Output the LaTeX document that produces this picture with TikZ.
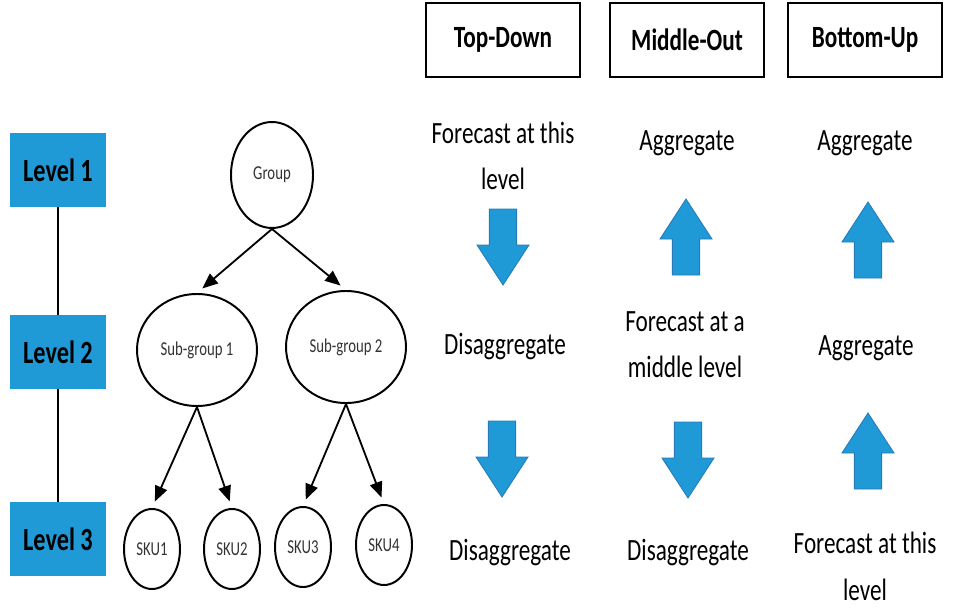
\documentclass[tikz,border=0pt]{standalone}
\usepackage{fontspec}
\setmainfont{Carlito}[FakeStretch=0.75]
\usepackage{xcolor}
\usetikzlibrary{shapes.geometric,arrows.meta}
\definecolor{levelblue}{RGB}{31,154,214}
\definecolor{arrowedge}{RGB}{38,122,184}

\begin{document}
\begin{tikzpicture}[
    levelbox/.style={fill=levelblue, minimum width=2.375cm, minimum height=1.85cm, font=\fontsize{23}{26}\selectfont\bfseries},
    headbox/.style={draw, line width=1.3pt, minimum width=3.85cm, minimum height=1.85cm, font=\fontsize{22}{26}\selectfont\bfseries},
    treenode/.style={draw, ellipse, line width=1.4pt, inner sep=0pt, font=\fontsize{14}{16}\selectfont, text=black!80},
    methodtext/.style={align=center, font=\fontsize{22}{33}\selectfont},
    treearrow/.style={-{Triangle[length=11pt,width=9pt]}, line width=1.3pt, shorten >=5pt},
    bigarrow/.style={fill=levelblue, draw=arrowedge, line width=0.6pt}
]
    \useasboundingbox (0,0) rectangle (24.45,15.2);

    % Levels
    \node[levelbox] (lv1) at (1.45,10.95) {Level 1};
    \node[levelbox] (lv2) at (1.45,6.4) {Level 2};
    \node[levelbox] (lv3) at (1.45,1.725) {Level 3};
    \draw[line width=1pt] (lv1) -- (lv2);
    \draw[line width=1pt] (lv2) -- (lv3);

    % Hierarchy
    \node[treenode, minimum width=2.05cm, minimum height=2.65cm] (grp) at (6.8,10.825) {Group};
    \node[treenode, minimum width=3cm, minimum height=2.8cm] (sub1) at (4.925,6.45) {Sub-group 1};
    \node[treenode, minimum width=3cm, minimum height=2.8cm] (sub2) at (8.65,6.525) {Sub-group 2};
    \node[treenode, minimum width=1.4cm, minimum height=2cm] (sku1) at (3.8,1.475) {SKU1};
    \node[treenode, minimum width=1.4cm, minimum height=2cm] (sku2) at (5.8,1.475) {SKU2};
    \node[treenode, minimum width=1.4cm, minimum height=2cm] (sku3) at (7.575,1.525) {SKU3};
    \node[treenode, minimum width=1.4cm, minimum height=2cm] (sku4) at (9.6,1.575) {SKU4};

    \draw[treearrow] (grp.south) -- (sub1.north);
    \draw[treearrow] (grp.south) -- (sub2.north);
    \draw[treearrow] (sub1.south) -- (sku1.north);
    \draw[treearrow] (sub1.south) -- (sku2.north);
    \draw[treearrow] (sub2.south) -- (sku3.north);
    \draw[treearrow] (sub2.south) -- (sku4.north);

    % Method headers
    \node[headbox] (td) at (12.575,14.19) {Top-Down};
    \node[headbox] (mo) at (17.175,14.2) {Middle-Out};
    \node[headbox] (bu) at (21.625,14.19) {Bottom-Up};

    % Top-Down column
    \node[methodtext] (td1) at (12.575,11.3) {Forecast at this\\level};
    \node[methodtext] (td2) at (12.625,6.525) {Disaggregate};
    \node[methodtext] (td3) at (12.75,1.375) {Disaggregate};

    % Middle-Out column
    \node[methodtext] (mo1) at (17.175,11.62) {Aggregate};
    \node[methodtext] (mo2) at (17.125,6.59) {Forecast at a\\middle level};
    \node[methodtext] (mo3) at (17.2,1.375) {Disaggregate};

    % Bottom-Up column
    \node[methodtext] (bu1) at (21.625,11.62) {Aggregate};
    \node[methodtext] (bu2) at (21.65,6.5) {Aggregate};
    \node[methodtext] (bu3) at (21.625,1.04) {Forecast at this\\level};

    % Block arrows (1 = down, -1 = up)
    \foreach \cx/\cy/\dir in {12.575/9.075/1, 12.55/3.775/1, 17.15/9.225/-1,
                              17.2/3.75/1, 21.7/9.15/-1, 21.7/3.875/-1}
        \draw[bigarrow, shift={(\cx,\cy)}, yscale=\dir]
            (-0.34,0.9) -- (0.34,0.9) -- (0.34,0) -- (0.65,0) -- (0,-1)
            -- (-0.65,0) -- (-0.34,0) -- cycle;
\end{tikzpicture}
\end{document}
